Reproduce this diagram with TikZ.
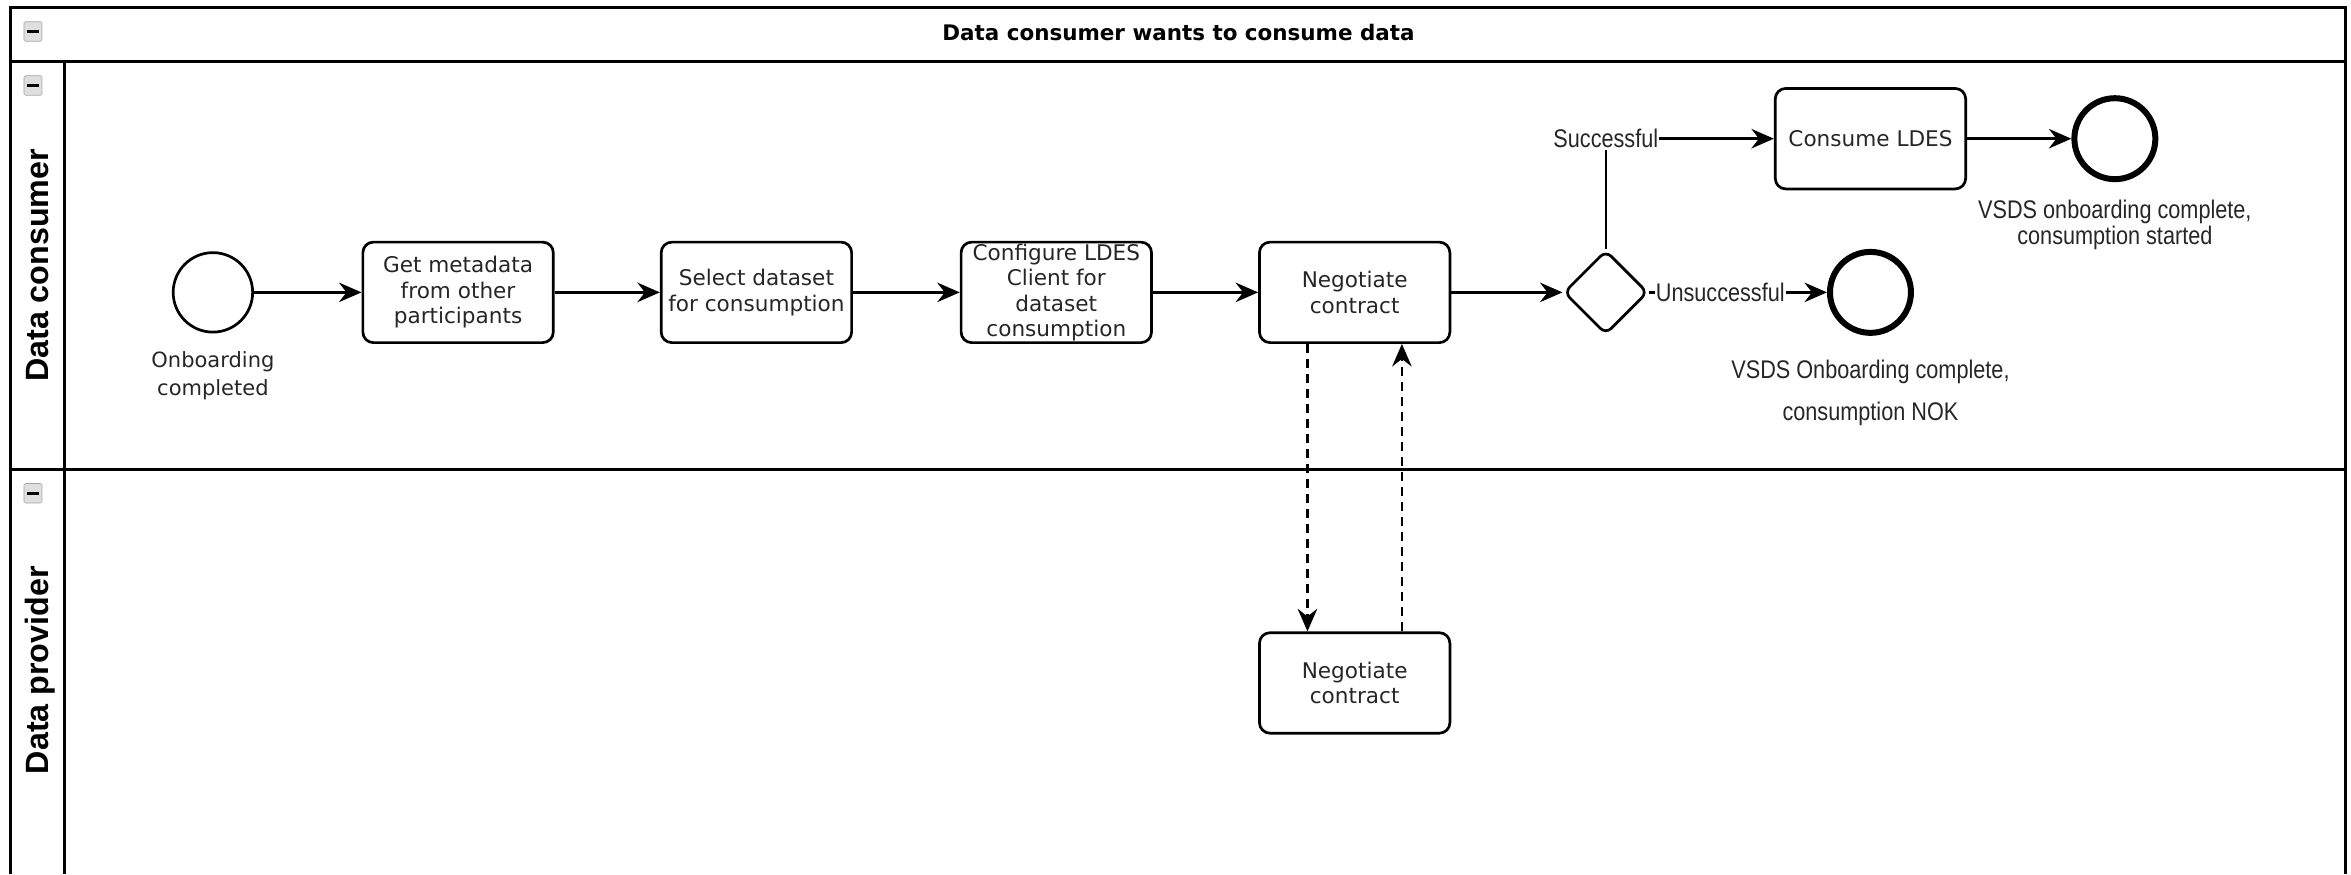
\documentclass[tikz,border=0pt]{standalone}
\usepackage{fontspec}
\setmainfont{DejaVu Sans}
\newfontfamily\narrowfont{Liberation Sans}
\usetikzlibrary{shapes.geometric,arrows.meta}

\begin{document}
\begin{tikzpicture}[x=1pt,y=-1pt,
	task/.style={draw, line width=1.8pt, rounded corners=7pt, minimum width=127pt, minimum height=67pt, inner sep=0pt, align=center, text=black!85, font=\fontsize{14.4}{17}\selectfont},
	startev/.style={draw, circle, line width=1.8pt, minimum size=53pt, inner sep=0pt},
	endev/.style={draw, circle, line width=4pt, minimum size=54pt, inner sep=0pt},
	gate/.style={draw, diamond, line width=1.8pt, rounded corners=5pt, minimum width=56pt, minimum height=56pt, inner sep=0pt},
	evlabel/.style={align=center, text=black!85, font=\fontsize{14}{19}\selectfont},
	endlabel/.style={align=center, text=black!85, xscale=0.85, font=\narrowfont\fontsize{17}{18}\selectfont},
	flowlabel/.style={fill=white, inner sep=1pt, text=black!85, xscale=0.85, font=\narrowfont\fontsize{17}{18}\selectfont},
	lane/.style={rotate=90, anchor=base, font=\narrowfont\bfseries\fontsize{21.5}{24}\selectfont},
	minusbox/.style={draw=gray!70, fill=gray!25, rounded corners=1pt, minimum width=12pt, minimum height=13pt, inner sep=0pt},
	flow/.style={line width=1.7pt, -{Stealth[length=15pt, width=13pt, inset=5pt]}},
	msg/.style={flow, dash pattern=on 6pt off 4pt}]

	\useasboundingbox (0,0) rectangle (1568,583);

	% Pool and lanes
	\draw[line width=2pt] (7,583) -- (7,5) -- (1564,5) -- (1564,583);
	\draw[line width=2pt] (7,41) -- (1564,41);
	\draw[line width=2pt] (7,313) -- (1564,313);
	\draw[line width=2pt] (43,41) -- (43,583);
	\node[font=\bfseries\fontsize{14.3}{17}\selectfont] (pool) at (786,22) {Data consumer wants to consume data};
	\node[lane] (consumer) at (32.5,177) {Data consumer};
	\node[lane] (provider) at (32.5,447) {Data provider};
	\foreach \y/\n in {21/a, 57/b, 329/c} {
		\node[minusbox] (fold\n) at (22,\y) {};
		\draw[line width=1.8pt] ([xshift=-4pt]fold\n.center) -- ([xshift=4pt]fold\n.center);
	}

	% Data consumer
	\node[startev] (start) at (142,195) {};
	\node[evlabel] (startlbl) at (142,250.5) {Onboarding\\completed};
	\node[task] (meta) at (305.5,195) {Get metadata\\from other\\participants};
	\node[task] (select) at (504.5,195) {Select dataset\\for consumption};
	\node[task] (config) at (704.5,195) {Configure LDES\\Client for\\dataset\\consumption};
	\node[task] (negcons) at (903.5,195) {Negotiate\\contract};
	\node[gate] (gw) at (1071,195) {};
	\node[task] (consume) at (1247.5,92.5) {Consume LDES};
	\node[endev] (okend) at (1410.5,92.5) {};
	\node[endlabel] (oklbl) at (1410.5,150) {VSDS onboarding complete,\\consumption started};
	\node[endev] (nokend) at (1247.5,195) {};
	\node[endlabel, font=\narrowfont\fontsize{17}{28}\selectfont] (noklbl) at (1247.5,262) {VSDS Onboarding complete,\\consumption NOK};

	% Data provider
	\node[task] (negprov) at (903.5,455.5) {Negotiate\\contract};

	% Sequence flows
	\draw[flow] (start) -- (meta);
	\draw[flow] (meta) -- (select);
	\draw[flow] (select) -- (config);
	\draw[flow] (config) -- (negcons);
	\draw[flow] (negcons) -- (gw);
	\draw[flow] (gw.north) |- node[flowlabel, pos=0.5] {Successful} (consume.west);
	\draw[flow] (consume) -- (okend);
	\draw[flow] (gw.east) -- node[flowlabel, pos=0.4] {Unsuccessful} (nokend.west);

	% Message flows
	\draw[msg] ([xshift=-31.5pt]negcons.south) -- ([xshift=-31.5pt]negprov.north);
	\draw[msg] ([xshift=31.5pt]negprov.north) -- ([xshift=31.5pt]negcons.south);

\end{tikzpicture}
\end{document}
